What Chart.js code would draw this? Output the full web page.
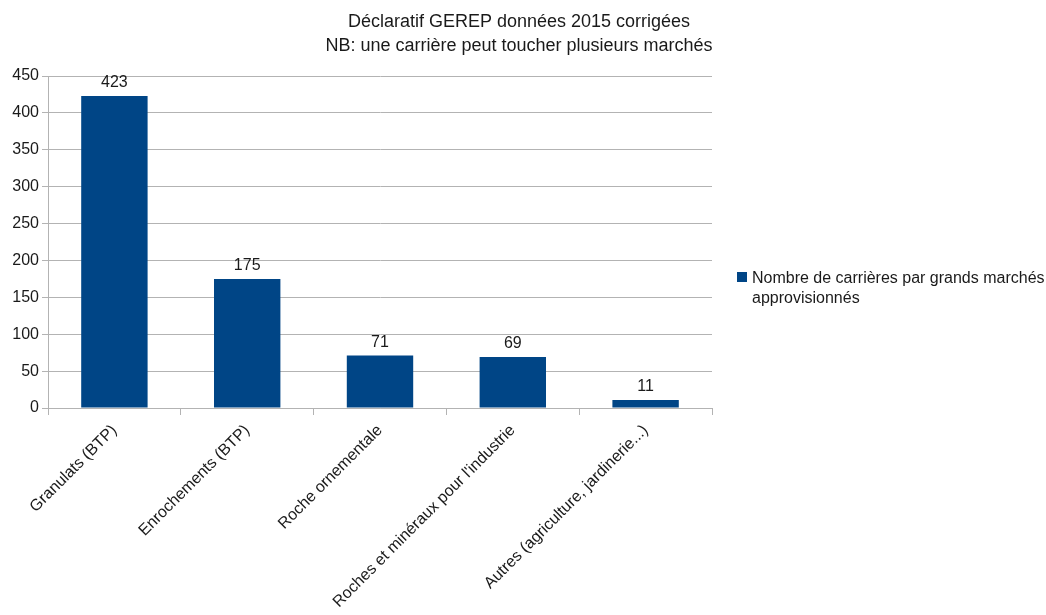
<!DOCTYPE html>
<html>
<head>
<meta charset="utf-8">
<script src="https://cdn.jsdelivr.net/npm/chart.js@4"></script>
<style>
  html, body { margin: 0; padding: 0; background: #fff; }
  #wrap { width: 1046px; height: 615px; }
</style>
</head>
<body>
<div id="wrap"><canvas id="chart"></canvas></div>
<script>
const categories = [
  'Granulats (BTP)',
  'Enrochements (BTP)',
  'Roche ornementale',
  "Roches et minéraux pour l'industrie",
  'Autres (agriculture, jardinerie...)'
];
const counts = [423, 175, 71, 69, 11];
const seriesName = 'Nombre de carrières par grands marchés approvisionnés';
const legendLines = ['Nombre de carrières par grands marchés', 'approvisionnés'];
const titleLines = ['Déclaratif GEREP données 2015 corrigées', 'NB: une carrière peut toucher plusieurs marchés'];

const FONT = "'Liberation Sans', Arial, sans-serif";
const BAR = '#004586';
const TEXT = '#1a1a1a';

const valueLabels = {
  id: 'valueLabels',
  afterDatasetsDraw(chart) {
    const ctx = chart.ctx;
    const meta = chart.getDatasetMeta(0);
    ctx.save();
    ctx.font = '16px ' + FONT;
    ctx.fillStyle = TEXT;
    ctx.textAlign = 'center';
    ctx.textBaseline = 'bottom';
    meta.data.forEach((bar, i) => {
      ctx.fillText(String(counts[i]), bar.x, bar.y - 5);
    });
    ctx.restore();
  }
};

// title and legend drawn by hand to sit where the original ones do
const sideText = {
  id: 'sideText',
  afterDraw(chart) {
    const ctx = chart.ctx;
    ctx.save();
    ctx.font = '18px ' + FONT;
    ctx.fillStyle = TEXT;
    ctx.textAlign = 'center';
    ctx.textBaseline = 'middle';
    titleLines.forEach((line, i) => {
      ctx.fillText(line, 519, 22 + i * 24);
    });

    ctx.fillStyle = BAR;
    ctx.fillRect(737, 272, 10, 10);
    ctx.font = '16px ' + FONT;
    ctx.fillStyle = TEXT;
    ctx.textAlign = 'left';
    ctx.textBaseline = 'alphabetic';
    legendLines.forEach((line, i) => {
      ctx.fillText(line, 752, 283 + i * 20);
    });
    ctx.restore();
  }
};

new Chart(document.getElementById('chart'), {
  type: 'bar',
  data: {
    labels: categories,
    datasets: [{
      label: seriesName,
      data: counts,
      backgroundColor: BAR,
      borderWidth: 0,
      categoryPercentage: 1,
      barPercentage: 0.5,
    }],
  },
  options: {
    responsive: true,
    maintainAspectRatio: false,
    animation: false,
    layout: { padding: { left: 0, right: 334, top: 76, bottom: 0 } },
    plugins: {
      legend: { display: false },
      tooltip: { enabled: false },
      title: { display: false },
    },
    scales: {
      x: {
        afterFit(scale) { scale.height = 207; },
        grid: {
          offset: true,
          drawOnChartArea: false,
          color: '#b3b3b3',
          tickLength: 7,
        },
        border: { color: '#b3b3b3' },
        ticks: {
          color: TEXT,
          font: { family: FONT, size: 16 },
          minRotation: 45,
          maxRotation: 45,
          autoSkip: false,
          padding: 6,
        },
      },
      y: {
        min: 0,
        max: 450,
        afterFit(scale) { scale.width = 48; },
        grid: { color: '#b3b3b3', tickLength: 6 },
        border: { color: '#b3b3b3' },
        ticks: {
          stepSize: 50,
          color: TEXT,
          font: { family: FONT, size: 16 },
          padding: 3,
        },
      },
    },
  },
  plugins: [valueLabels, sideText],
});
</script>
</body>
</html>
